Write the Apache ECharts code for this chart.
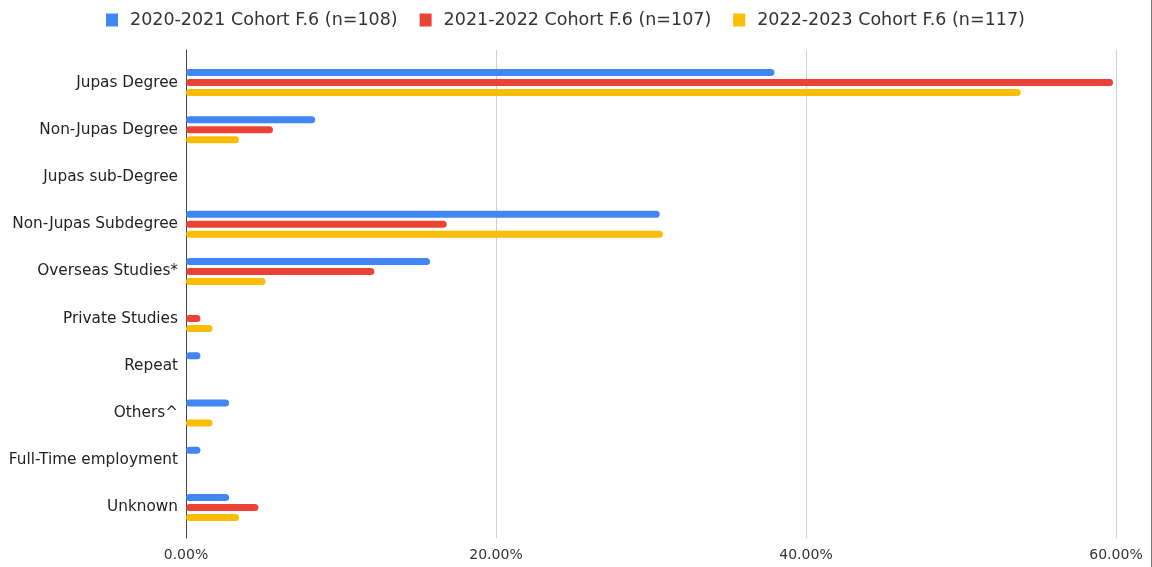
<!DOCTYPE html>
<html><head><meta charset="utf-8">
<script src="https://cdn.jsdelivr.net/npm/echarts@6/dist/echarts.min.js"></script>
<style>html,body{margin:0;padding:0;background:#fff}#c{width:1152px;height:567px}#edge{position:absolute;left:1151px;top:0;width:1px;height:567px;background:#777}</style>
</head><body><div id="c"></div><div id="edge"></div>
<script>
const categories = ["Jupas Degree","Non-Jupas Degree","Jupas sub-Degree","Non-Jupas Subdegree","Overseas Studies*","Private Studies","Repeat","Others^","Full-Time employment","Unknown"];
const seriesNames = ["2020-2021 Cohort F.6 (n=108)","2021-2022 Cohort F.6 (n=107)","2022-2023 Cohort F.6 (n=117)"];
const cohort2021 = [37.96, 8.33, 0, 30.56, 15.74, 0, 0.93, 2.78, 0.93, 2.78];
const cohort2122 = [59.81, 5.61, 0, 16.82, 12.15, 0.93, 0, 0, 0, 4.67];
const cohort2223 = [53.85, 3.42, 0, 30.77, 5.13, 1.71, 0, 1.71, 0, 3.42];
const colors = ["#4285f4","#ea4335","#fbbc04"];
const xTicks = [0, 20, 40, 60];

const font = "'DejaVu Sans', sans-serif";
const chart = echarts.init(document.getElementById('c'));
const mk = (name, data, i) => ({
  name, type: 'bar', data, barWidth: 7, barGap: '43%',
  xAxisIndex: 1, yAxisIndex: 1,
  itemStyle: { color: colors[i], borderRadius: 3.5 },
  emphasis: { disabled: true }
});
chart.setOption({
  animation: false,
  legend: {
    top: 6, left: 101, itemWidth: 12, itemHeight: 13, itemGap: 22, icon: 'rect',
    textStyle: { fontFamily: font, fontSize: 17.5, color: '#333', padding: [0, 0, 0, 7] },
    data: seriesNames
  },
  grid: [
    { left: 186, right: 36, top: 50, bottom: 29 },
    { left: 186, right: 36, top: 59, bottom: 36 }
  ],
  xAxis: [
    {
      gridIndex: 0, type: 'value', min: xTicks[0], max: xTicks[xTicks.length-1], interval: 20,
      axisLine: { show: false }, axisTick: { show: false },
      axisLabel: { formatter: v => v.toFixed(2) + '%', fontFamily: font, fontSize: 14, color: '#333', margin: 10 },
      splitLine: { lineStyle: { color: '#d0d0d0', width: 1 } }
    },
    {
      gridIndex: 1, type: 'value', min: xTicks[0], max: xTicks[xTicks.length-1], interval: 20,
      show: false, splitLine: { show: false }
    }
  ],
  yAxis: [
    {
      gridIndex: 0, type: 'value', min: 0, max: 1,
      axisLine: { show: true, lineStyle: { color: '#444', width: 1 } },
      axisTick: { show: false }, axisLabel: { show: false }, splitLine: { show: false }
    },
    {
      gridIndex: 1, type: 'category', data: categories, inverse: true,
      axisLine: { show: false }, axisTick: { show: false },
      axisLabel: { fontFamily: font, fontSize: 15.3, color: '#222', margin: 8 }
    }
  ],
  series: [mk(seriesNames[0], cohort2021, 0), mk(seriesNames[1], cohort2122, 1), mk(seriesNames[2], cohort2223, 2)]
});
</script></body></html>
